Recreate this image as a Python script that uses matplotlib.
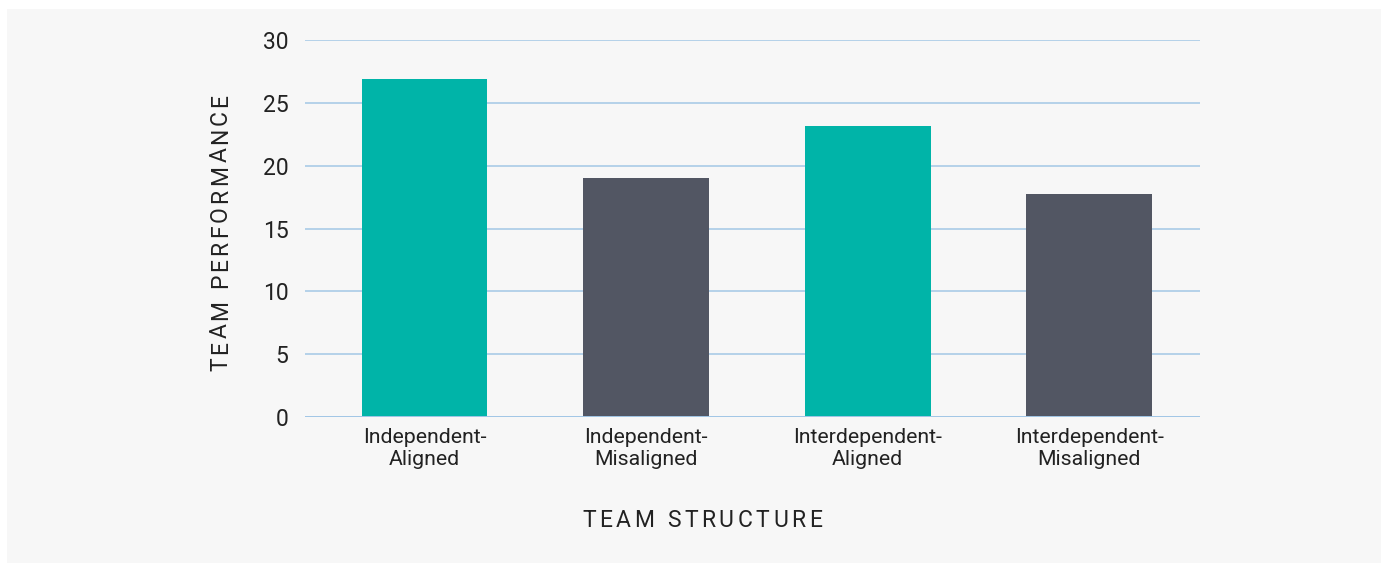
import matplotlib
matplotlib.use("Agg")
import matplotlib.pyplot as plt
from matplotlib.patches import Rectangle
from matplotlib.font_manager import FontProperties

# ── Data ───────────────────────────────────────────────────────────────────────

categories = ["Independent-\nAligned", "Independent-\nMisaligned",
              "Interdependent-\nAligned", "Interdependent-\nMisaligned"]
performance = [26.9, 19.0, 23.15, 17.75]
y_ticks = [0, 5, 10, 15, 20, 25, 30]

TEAL   = "#00b4a8"
SLATE  = "#525663"
PANEL  = "#f7f7f7"
GRID   = "#a3c7e6"
TEXT   = "#222222"

plt.rcParams["font.family"] = ["Roboto", "DejaVu Sans"]

W, H = 1381, 563
fig = plt.figure(figsize=(W / 100, H / 100), dpi=100, facecolor="white")


def tracked_text(fig, s, start_px, base_px, span_px, fontsize, vertical=False):
    """Draw s with letter spacing so that it spans roughly span_px pixels.
    start_px: along-text start (x for horizontal, y-from-top for vertical, bottom end)
    base_px : baseline position (y-from-top for horizontal, x for vertical)"""
    renderer = fig.canvas.get_renderer()
    fp = FontProperties(family=["Roboto", "DejaVu Sans"], size=fontsize)
    widths = [renderer.get_text_width_height_descent(c, fp, ismath=False)[0] for c in s]
    track = (span_px - sum(widths)) / (len(s) - 1)
    pos = start_px
    for c, w in zip(s, widths):
        if vertical:
            fig.text(base_px / W, 1 - pos / H, c, rotation=90, rotation_mode="anchor",
                     ha="left", va="baseline", fontproperties=fp, color=TEXT)
            pos -= w + track
        else:
            fig.text(pos / W, 1 - base_px / H, c, rotation_mode="anchor",
                     ha="left", va="baseline", fontproperties=fp, color=TEXT)
            pos += w + track


# gray panel behind everything, with thin white strip at left / top
fig.patches.append(Rectangle((7 / W, 0), 1 - 7 / W, 1 - 9 / H,
                             transform=fig.transFigure, facecolor=PANEL,
                             edgecolor="none", zorder=-10))

ax = fig.add_axes([305 / W, 1 - 417 / H, 895 / W, 377 / H])
ax.set_facecolor("none")

colors = [TEAL, SLATE, TEAL, SLATE]
x = range(len(categories))
ax.bar(x, performance, width=0.567, color=colors, zorder=3)

ax.set_ylim(0, 30)
ax.set_xlim(-0.54, 3.5)
ax.set_yticks(y_ticks)
ax.set_xticks(list(x))
ax.set_xticklabels(categories, fontsize=15.3, color=TEXT, linespacing=1.18)
ax.tick_params(axis="y", length=0, pad=12, labelsize=16.5, labelcolor=TEXT)
ax.tick_params(axis="x", length=0, pad=8)

ax.grid(axis="y", color=GRID, linewidth=1.1, zorder=0)
ax.axhline(0, color=GRID, linewidth=1.4, zorder=4)
for s in ax.spines.values():
    s.set_visible(False)

tracked_text(fig, "TEAM PERFORMANCE", 371, 227, 277, 16.5, vertical=True)
tracked_text(fig, "TEAM STRUCTURE", 582, 527, 240, 16.5)

fig.savefig("out.png", dpi=100, facecolor=fig.get_facecolor())
